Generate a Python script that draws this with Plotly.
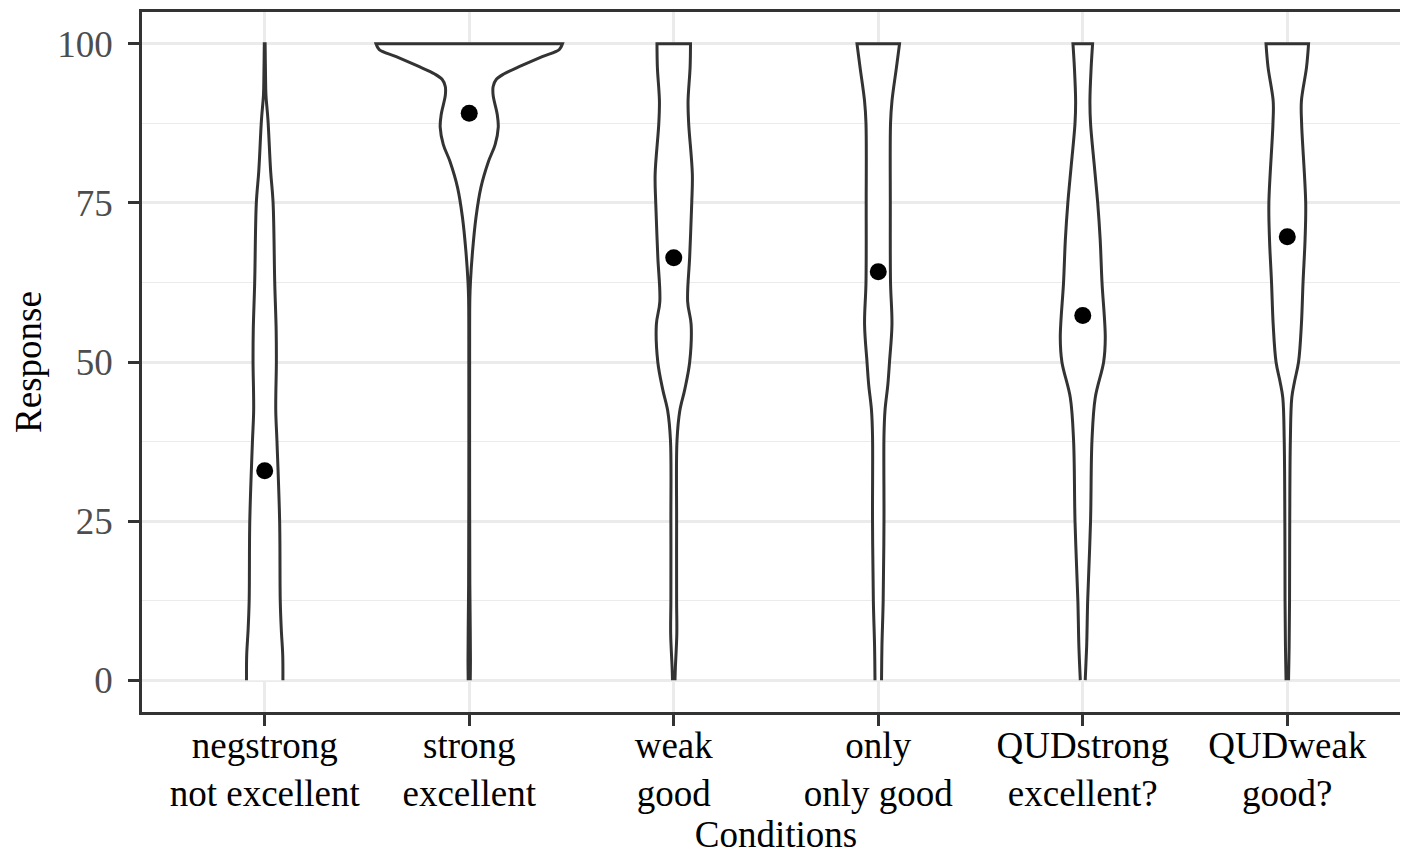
import plotly.graph_objects as go

# ---- data ----
categories = ["negstrong<br>not excellent", "strong<br>excellent", "weak<br>good",
              "only<br>only good", "QUDstrong<br>excellent?", "QUDweak<br>good?"]
means = [32.9, 89.1, 66.4, 64.2, 57.3, 69.7]

# density outlines: response levels and half-widths (in category-axis units)
neg_levels = [0, 4, 8, 12.5, 25, 37.5, 42.5, 50, 55, 62.5, 75, 80, 88, 92, 95, 100]
neg_hw = [0.089, 0.088, 0.081, 0.076, 0.073, 0.060, 0.054, 0.057, 0.056, 0.049, 0.041,
          0.029, 0.016, 0.006, 0.004, 0.002]

strong_levels = [0, 3, 8, 15, 30, 50, 59.9, 62.6, 67.3, 72.7, 77.4, 81.5, 84.2, 86.9,
                 88.9, 91.9, 93.3, 94.4, 95.3, 96.4, 98, 99.1, 100]
strong_hw = [0.005, 0.006, 0.005, 0.003, 0.002, 0.002, 0.003, 0.006, 0.016, 0.033, 0.057,
             0.094, 0.127, 0.142, 0.137, 0.117, 0.117, 0.132, 0.171, 0.244, 0.357, 0.44, 0.456]

weak_levels = [0, 2, 7.3, 12.5, 25, 37.7, 42.4, 45.7, 50, 55.9, 59.5, 66.6, 75, 79.5,
               87.5, 91, 96.3, 100]
weak_hw = [0.006, 0.008, 0.015, 0.014, 0.014, 0.016, 0.030, 0.054, 0.078, 0.085, 0.068,
           0.078, 0.088, 0.091, 0.073, 0.070, 0.080, 0.082]

only_levels = [0, 5.3, 12.5, 25, 38.4, 42.4, 46.5, 50, 55.9, 62.5, 75, 87.5, 91, 96.3, 100]
only_hw = [0.016, 0.018, 0.024, 0.028, 0.028, 0.033, 0.047, 0.055, 0.067, 0.060, 0.059,
           0.060, 0.067, 0.089, 0.104]

qs_levels = [0, 5.3, 12.5, 25, 37.7, 44.4, 50, 53.8, 62.5, 69.3, 75, 81, 87.5, 91, 96.3, 100]
qs_hw = [0.012, 0.019, 0.024, 0.038, 0.045, 0.061, 0.102, 0.110, 0.094, 0.085, 0.073,
         0.056, 0.038, 0.035, 0.041, 0.048]

qw_levels = [0, 5.3, 12.5, 25, 37.7, 44.4, 47, 50, 55.9, 62.5, 69.3, 75, 87.5, 91, 96.3, 100]
qw_hw = [0.006, 0.009, 0.011, 0.012, 0.015, 0.022, 0.036, 0.055, 0.069, 0.077, 0.087,
         0.090, 0.070, 0.069, 0.094, 0.104]

profiles = [(neg_levels, neg_hw), (strong_levels, strong_hw), (weak_levels, weak_hw),
            (only_levels, only_hw), (qs_levels, qs_hw), (qw_levels, qw_hw)]

y_ticks = [0, 25, 50, 75, 100]

# ---- figure ----
fig = go.Figure()
positions = list(range(1, len(categories) + 1))

for pos, (lv, hw) in zip(positions, profiles):
    left_x = [pos - w for w in hw]
    right_x = [pos + w for w in hw][::-1]
    left_y = list(lv)
    right_y = list(lv)[::-1]
    # duplicate corner points so the flat top/bottom stay straight with spline
    xs = [left_x[0]] + left_x + [left_x[-1]] + [right_x[0]] + right_x + [right_x[-1]]
    ys = [left_y[0]] + left_y + [left_y[-1]] + [right_y[0]] + right_y + [right_y[-1]]
    fig.add_trace(go.Scatter(
        x=xs, y=ys, mode="lines", fill="toself", fillcolor="white",
        line=dict(color="#333333", width=3, shape="spline", smoothing=1, simplify=False),
        hoverinfo="skip", showlegend=False))

fig.add_trace(go.Scatter(
    x=positions, y=means, mode="markers",
    marker=dict(color="black", size=17), showlegend=False))

font_family = "Liberation Serif, Times New Roman, serif"

fig.update_layout(
    width=1408, height=853,
    margin=dict(l=134, r=6, t=1, b=149),
    paper_bgcolor="white", plot_bgcolor="white",
    font=dict(family=font_family, size=37, color="black"),
    showlegend=False,
)

fig.update_xaxes(
    range=[0.4, 6.6], tickvals=positions, ticktext=categories,
    showgrid=True, gridcolor="#EBEBEB", gridwidth=2.5,
    zeroline=False,
    showline=True, mirror=True, linecolor="#333333", linewidth=2.5,
    ticks="outside", ticklen=11, tickwidth=2.5, tickcolor="#333333",
    ticklabelstandoff=-12,
    tickfont=dict(family=font_family, size=37, color="black"),
    title=dict(text="Conditions", font=dict(family=font_family, size=37, color="black"),
               standoff=0),
)

fig.update_yaxes(
    range=[-5, 105], tickvals=y_ticks,
    showgrid=True, gridcolor="#EBEBEB", gridwidth=2.5,
    minor=dict(dtick=12.5, tick0=0, showgrid=True, gridcolor="#EBEBEB", gridwidth=1.2, ticks=""),
    zeroline=False,
    showline=True, mirror=True, linecolor="#333333", linewidth=2.5,
    ticks="outside", ticklen=11, tickwidth=2.5, tickcolor="#333333",
    ticklabelstandoff=8,
    tickfont=dict(family=font_family, size=37, color="#4D4D4D"),
    title=dict(text="Response", font=dict(family=font_family, size=37, color="black"),
               standoff=11),
)

fig.write_html("out.html")
